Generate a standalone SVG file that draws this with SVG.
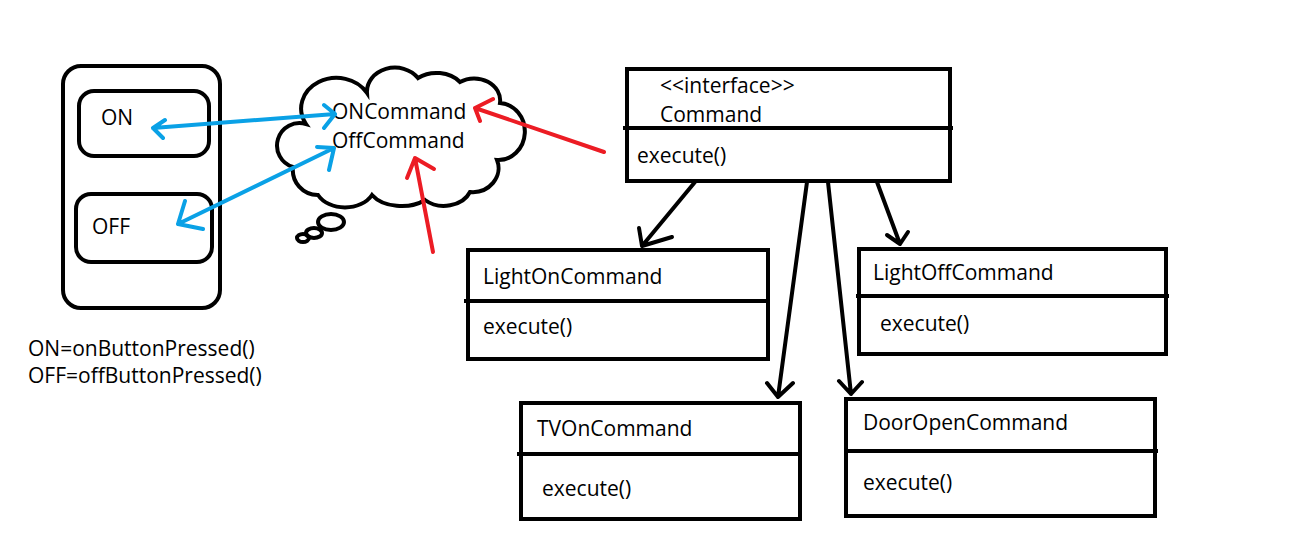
<svg xmlns="http://www.w3.org/2000/svg" width="1289" height="545" viewBox="0 0 1289 545">
<style>
.bx{fill:none;stroke:#000;stroke-width:4}
.ln{fill:none;stroke:#000;stroke-width:4;stroke-linecap:round;stroke-linejoin:round}
.bl{fill:none;stroke:#0aa1e6;stroke-width:4;stroke-linecap:round;stroke-linejoin:round}
.rd{fill:none;stroke:#ec1c24;stroke-width:4;stroke-linecap:round;stroke-linejoin:round}
text{font-family:"Open Sans","Noto Sans",sans-serif;font-size:21px;fill:#000}
</style>
<rect width="1289" height="545" fill="#fff"/>
<g id="remote">
<rect class="bx" x="63" y="66" width="157" height="242" rx="18"/>
</g>
<g id="onButton">
<rect class="bx" x="79" y="91" width="130" height="65" rx="15"/>
<text x="101" y="125">ON</text>
</g>
<g id="offButton">
<rect class="bx" x="76" y="194" width="136" height="68" rx="15"/>
<text x="92" y="234">OFF</text>
</g>
<g id="legend">
<text x="28" y="356">ON=onButtonPressed()</text>
<text x="28" y="383">OFF=offButtonPressed()</text>
</g>
<g id="cloud">
<path class="bx" d="M306,124 A30,26 0 0 1 367,93 A28,24 0 0 1 418,78 A30,24 0 0 1 460,82 A26,22 0 0 1 500,103 A24,26 0 0 1 497,160 A26,24 0 0 1 470,192 A28,22 0 0 1 425,200 A34,22 0 0 1 372,195 A30,22 0 0 1 318,195 A25,25 0 0 1 293,167 A22,22 0 0 1 306,124 Z" fill="#fff"/>
<ellipse class="bx" cx="331" cy="222" rx="13" ry="8" stroke-width="3.5"/>
<ellipse class="bx" cx="314" cy="233" rx="8" ry="5" stroke-width="3.5"/>
<ellipse class="bx" cx="303" cy="238" rx="6" ry="4" stroke-width="3.5"/>
<text x="332" y="119">ONCommand</text>
<text x="332" y="148">OffCommand</text>
</g>
<g id="command">
<rect class="bx" x="627" y="69" width="323" height="112"/>
<line class="bx" x1="623" y1="128" x2="953" y2="128"/>
<text x="660" y="93">&lt;&lt;interface&gt;&gt;</text>
<text x="660" y="122">Command</text>
<text x="637" y="163">execute()</text>
</g>
<g id="lightOn">
<rect class="bx" x="468" y="250" width="300" height="109"/>
<line class="bx" x1="464" y1="301" x2="768" y2="301"/>
<text x="483" y="284">LightOnCommand</text>
<text x="483" y="334">execute()</text>
</g>
<g id="lightOff">
<rect class="bx" x="859" y="249" width="307" height="105"/>
<line class="bx" x1="856" y1="296" x2="1169" y2="296"/>
<text x="873" y="280">LightOffCommand</text>
<text x="880" y="331">execute()</text>
</g>
<g id="tvOn">
<rect class="bx" x="521" y="403" width="279" height="116"/>
<line class="bx" x1="517" y1="454" x2="802" y2="454"/>
<text x="537" y="436">TVOnCommand</text>
<text x="542" y="496">execute()</text>
</g>
<g id="doorOpen">
<rect class="bx" x="846" y="399" width="309" height="117"/>
<line class="bx" x1="846" y1="451" x2="1158" y2="451"/>
<text x="863" y="430">DoorOpenCommand</text>
<text x="863" y="490">execute()</text>
</g>
<g id="connectors">
<path class="bl" d="M153,128 L335,114 M165,120 L153,128 L163,138 M324,105 L335,114 L324,128"/>
<path class="bl" d="M178,224 L334,148 M185,201 L178,224 L203,229 M317,147 L334,148 L329,170"/>
<path class="rd" d="M604,152 L475,108 M493,99 L475,108 L480,121"/>
<path class="rd" d="M433,252 L415,158 M407,178 L415,158 L434,169"/>
<path class="ln" d="M695,182 L642,246 M639,228 L642,246 L672,237"/>
<path class="ln" d="M807,182 L778,397 M767,383 L778,397 L793,383"/>
<path class="ln" d="M828,182 L851,394 M839,381 L851,394 L862,382"/>
<path class="ln" d="M877,182 L900,244 M887,235 L900,244 L908,232"/>
</g>
</svg>
